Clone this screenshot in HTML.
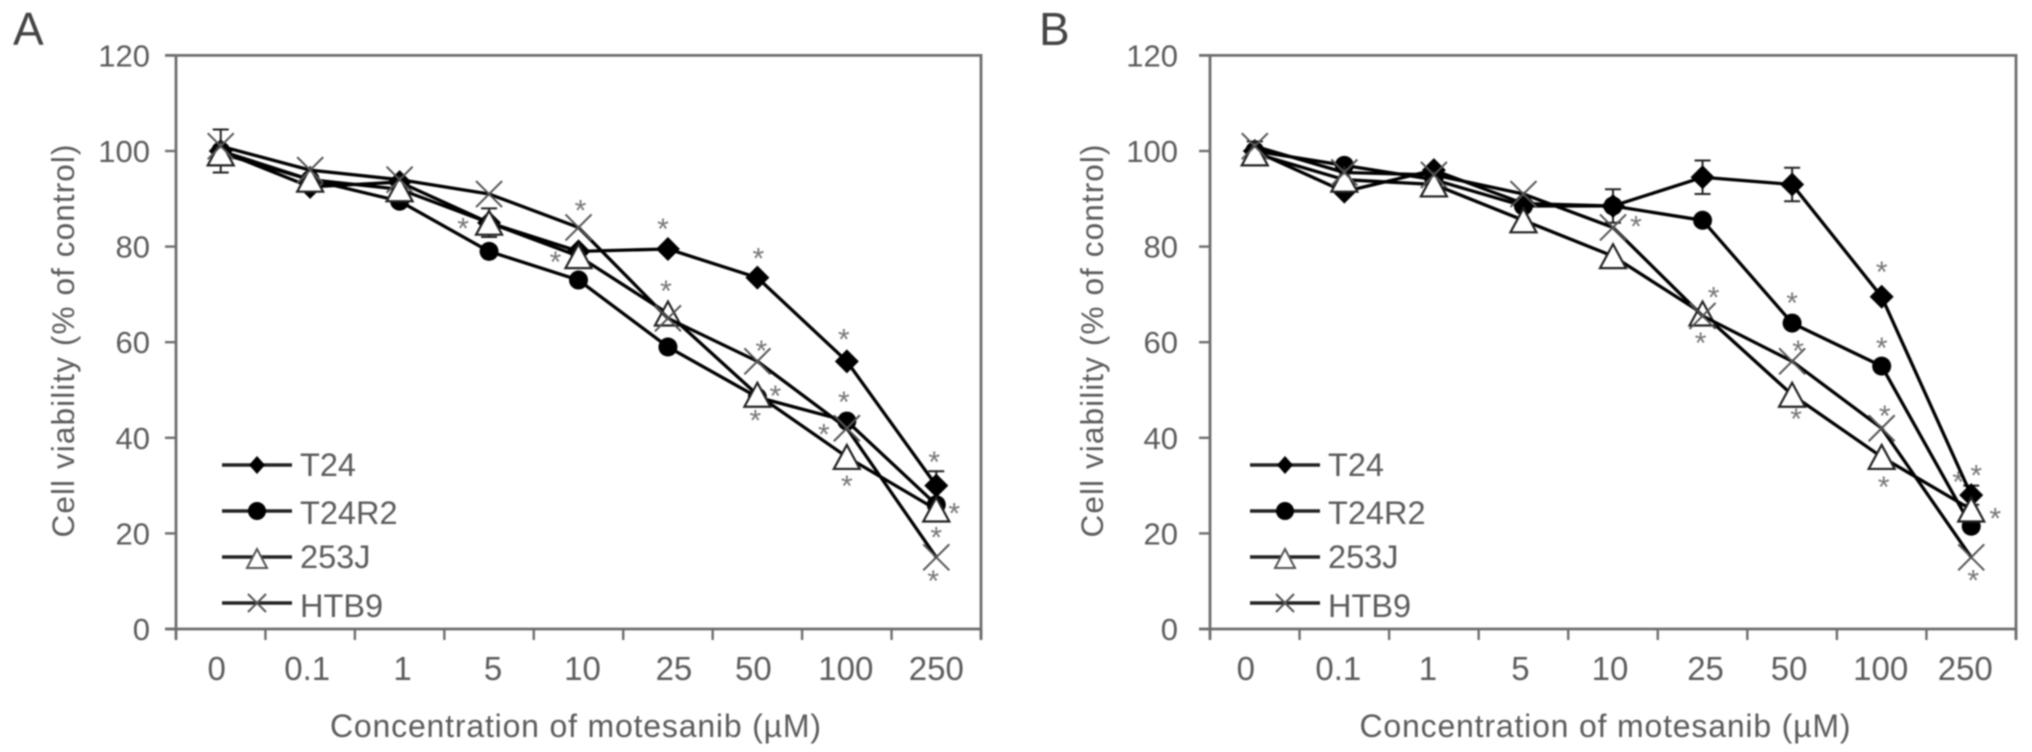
<!DOCTYPE html>
<html lang="en">
<head>
<meta charset="utf-8">
<title>Cell viability vs motesanib concentration</title>
<style>
html,body{margin:0;padding:0;background:#fff;width:2032px;height:752px;overflow:hidden}
svg{display:block;filter:blur(0.8px)}
text{font-family:"Liberation Sans",sans-serif;fill:#5c5c5c}
</style>
</head>
<body>
<svg id="figure" width="2032" height="752" viewBox="0 0 2032 752" xmlns="http://www.w3.org/2000/svg">
<rect x="0" y="0" width="2032" height="752" fill="#fff"/>
<text x="13" y="45" font-size="46" style="fill:#444">A</text>
<text x="1039" y="45" font-size="46" style="fill:#444">B</text>
</svg>
<script>
// ---- Data ----
const categories = ['0','0.1','1','5','10','25','50','100','250'];
const yTicks = [0,20,40,60,80,100,120];
const seriesNames = ['T24','T24R2','253J','HTB9'];

const panelA_T24   = [100,92.5,93.5,85,79,79.5,73.5,56,30];
const panelA_T24R2 = [100,94,89.5,79,73,59,48.5,43.5,26];
const panelA_253J  = [99.5,94,92,85,78,66,49,36,25];
const panelA_HTB9  = [101,96,94,91,84,65,56,42,15];
const panelA_errT24 = [4.5,0,0,3,0,0,0,0,3];

const panelB_T24   = [100,91.5,96,89,88.5,94.5,93,69.5,28];
const panelB_T24R2 = [100,97,94,88.5,88.5,85.5,64,55,21.5];
const panelB_253J  = [99.5,94,93,85.5,78,66,49,36,25];
const panelB_HTB9  = [101,95.5,95,91,84,65.5,56,42,15];
const panelB_errT24 = [2,0,0,0,3.5,3.5,3.5,0,2];

// significance stars: category index and value level
const panelA_starCats = [4,3,4,5,5,6,6,6,6,7,7,7,7,8,8,8,8];
const panelA_starVals = [88.4,84.6,77.6,84.5,71.5,78.3,59,49.6,44.5,61.4,48.3,41.5,30.8,35.8,25,20,10.9];
const panelB_starCats = [4,5,5,6,6,6,7,7,7,7,8,8,8,8];
const panelB_starVals = [85,70.2,60.7,69,59,44.8,75.5,59.6,45.4,30.5,33,31.6,24,11];

// ---- Layout (pixels, separate from the data) ----
const panelA_starShift = [2,-26,-23,-5,-2,1,4,18,-2,-3,-3,-23,0,-2,18,0,-3];
const panelB_starShift = [23,11,-2,0,6,4,0,0,3,2,5,-13,24,2];
const panelA_labelShift = [-4,-3,3,4,4,6,-4,-1,0];
const panelB_labelShift = [-9,-6,-6,-3,-3,3,-3,-1,-6];
const Y0 = 629, PX_PER_UNIT = 4.78, YMAX = 120;
const svg = document.getElementById('figure');
const NS = 'http://www.w3.org/2000/svg';

function mk(parent, tag, attrs, text){
  const el = document.createElementNS(NS, tag);
  for (const k in attrs) el.setAttribute(k, attrs[k]);
  if (text !== undefined) el.textContent = text;
  parent.appendChild(el);
  return el;
}

function drawMarker(g, kind, x, y){
  let el;
  if (kind === 0){
    el = mk(g,'polygon',{points:[x,y-12,x+12,y,x,y+12,x-12,y].join(','),fill:'#000'});
    
  } else if (kind === 1){
    el = mk(g,'circle',{cx:x,cy:y,r:9.5,fill:'#000'});
    
  } else if (kind === 2){
    el = mk(g,'polygon',{points:[x,y-12,x+13,y+12,x-13,y+12].join(','),fill:'#fff',stroke:'#222','stroke-width':2.2});
    
  } else {
    el = mk(g,'path',{d:`M${x-13} ${y-13}L${x+13} ${y+13}M${x+13} ${y-13}L${x-13} ${y+13}`,fill:'none',stroke:'#555','stroke-width':2});
    
  }
  
}

function drawPanel(cfg){
  const left = cfg.left, right = cfg.right;
  const band = (right-left)/categories.length;
  const xs = i => left + band*(i+0.5);
  const ys = v => Y0 - v*PX_PER_UNIT;
  const g = mk(svg,'g',{});
  
  

  // axes
  const frame = mk(g,'path',{d:`M${left-11} ${ys(YMAX)}H${right}V${Y0+11}M${left} ${ys(YMAX)}V${Y0+11}M${left-11} ${Y0}H${right}`,fill:'none',stroke:'#6e6e6e','stroke-width':2.8});
  
  

  yTicks.forEach(t=>{
    const tick = mk(g,'line',{x1:left-11,x2:left,y1:ys(t),y2:ys(t),stroke:'#6e6e6e','stroke-width':2.4});
    
    
    const lab = mk(g,'text',{x:left-cfg.yLabelGap,y:ys(t)+11,'text-anchor':'end','font-size':31},String(t));
    
    
  });
  categories.forEach((c,i)=>{
    const tx = left+band*(i+1);
    const tick = mk(g,'line',{x1:tx,x2:tx,y1:Y0,y2:Y0+11,stroke:'#6e6e6e','stroke-width':2.4});
    
    
    const lab = mk(g,'text',{x:xs(i)+cfg.labelShift[i],y:680,'text-anchor':'middle','font-size':33},c);
    
    
  });

  // axis titles
  const yt = mk(g,'text',{transform:`translate(${left-cfg.yTitleGap},341) rotate(-90)`,'text-anchor':'middle','font-size':31.5,textLength:393,lengthAdjust:'spacing'},'Cell viability (% of control)');
  
  
  const xt = mk(g,'text',{x:(left+right)/2+cfg.xTitleShift,y:737,'text-anchor':'middle','font-size':32,textLength:491,lengthAdjust:'spacing'},'Concentration of motesanib (\u00B5M)');
  
  

  // stars
  cfg.starCats.forEach((c,i)=>{
    const s = mk(g,'text',{x:xs(c)+cfg.starShift[i],y:ys(cfg.starVals[i])+14,'text-anchor':'middle','font-size':30,style:'fill:#777'},'*');
    
    
  });

  // error bars (T24)
  cfg.err.forEach((e,i)=>{
    if (!e) return;
    const x = xs(i), v = cfg.series[0][i];
    const bar = mk(g,'path',{d:`M${x} ${ys(v+e)}V${ys(v-e)}M${x-8} ${ys(v+e)}H${x+8}M${x-8} ${ys(v-e)}H${x+8}`,fill:'none',stroke:'#222','stroke-width':2});
    
    
  });

  // series
  cfg.series.forEach((vals,k)=>{
    const sg = mk(g,'g',{});
    
    
    const line = mk(sg,'polyline',{points:vals.map((v,i)=>xs(i)+','+ys(v)).join(' '),fill:'none',stroke:'#000','stroke-width':3.3,'stroke-linejoin':'round'});
    
    
    vals.forEach((v,i)=>drawMarker(sg,k,xs(i),ys(v)));
  });

  // legend
  const lineYs = [465,511,557,603], textYs = [476,524,568,617];
  const lx = left + cfg.legendShift;
  seriesNames.forEach((n,k)=>{
    const lg = mk(g,'g',{});
    
    
    const sw = mk(lg,'line',{x1:lx+46,x2:lx+116,y1:lineYs[k],y2:lineYs[k],stroke:'#222','stroke-width':3.4});
    
    
    const mx = lx+81, my = lineYs[k];
    if (k===0){
      const el = mk(lg,'polygon',{points:[mx,my-9,mx+8,my,mx,my+9,mx-8,my].join(','),fill:'#000'});
      
      
    } else if (k===1){
      const el = mk(lg,'circle',{cx:mx,cy:my,r:9,fill:'#000'});
      
      
    } else if (k===2){
      const el = mk(lg,'polygon',{points:[mx,my-8,mx+10,my+11,mx-10,my+11].join(','),fill:'#fff',stroke:'#555','stroke-width':2});
      
      
    } else {
      const el = mk(lg,'path',{d:`M${mx-9} ${my-9}L${mx+9} ${my+9}M${mx+9} ${my-9}L${mx-9} ${my+9}`,fill:'none',stroke:'#555','stroke-width':2});
      
      
    }
    const t = mk(lg,'text',{x:lx+124,y:textYs[k],'font-size':32.5},n);
    
    
  });
}

drawPanel({id:'panel-a',left:176,right:981,yLabelGap:26,yTitleGap:102,xTitleShift:-3,legendShift:0,
  series:[panelA_T24,panelA_T24R2,panelA_253J,panelA_HTB9],err:panelA_errT24,labelShift:panelA_labelShift,
  starCats:panelA_starCats,starVals:panelA_starVals,starShift:panelA_starShift});
drawPanel({id:'panel-b',left:1210,right:2016,yLabelGap:32,yTitleGap:107,xTitleShift:-8,legendShift:-6,
  series:[panelB_T24,panelB_T24R2,panelB_253J,panelB_HTB9],err:panelB_errT24,labelShift:panelB_labelShift,
  starCats:panelB_starCats,starVals:panelB_starVals,starShift:panelB_starShift});
</script>
</body>
</html>
